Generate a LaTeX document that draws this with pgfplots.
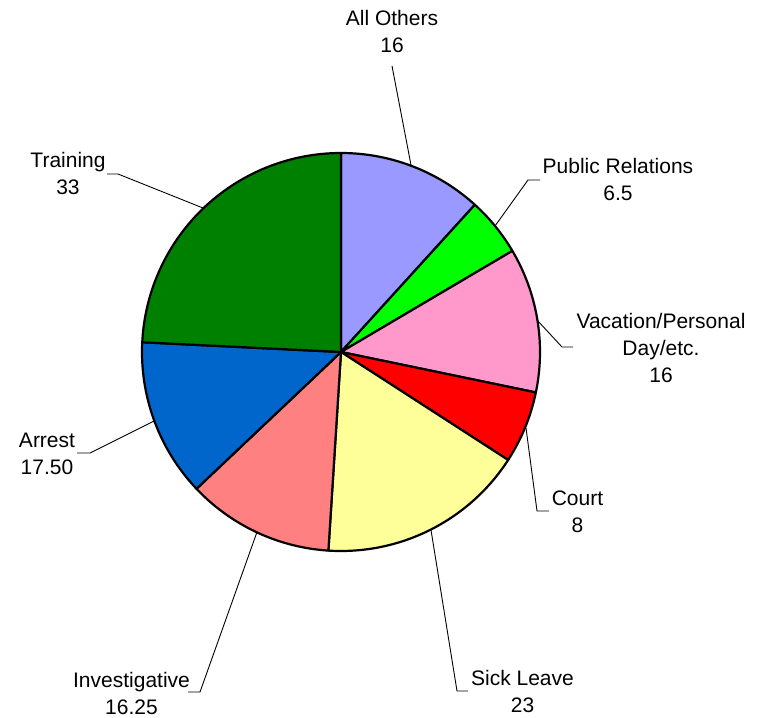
\documentclass[border=0pt]{standalone}
\usepackage{pgfplots}
\pgfplotsset{compat=1.18}
\usepackage{fontspec}
\setmainfont{Liberation Sans}
\definecolor{cOthers}{RGB}{153,153,255}
\definecolor{cPR}{RGB}{0,255,0}
\definecolor{cVac}{RGB}{255,153,204}
\definecolor{cCourt}{RGB}{255,0,0}
\definecolor{cSick}{RGB}{255,255,153}
\definecolor{cInv}{RGB}{255,128,128}
\definecolor{cArrest}{RGB}{0,102,204}
\definecolor{cTrain}{RGB}{0,128,0}
\tikzset{lbl/.style={font=\fontsize{21bp}{27bp}\selectfont, align=center, inner sep=0pt}}
% values: All Others 16, Public Relations 6.5, Vacation 16, Court 8,
% Sick Leave 23, Investigative 16.25, Arrest 17.50, Training 33 (total 136.25)
\newcommand{\pieslice}[3]{% #1 cumulative start, #2 value, #3 colour
  \addplot[fill=#3, draw=black, line width=2.2bp, line join=round, domain={360*(#1)/136.25}:{360*(#1+#2)/136.25}, samples=80, variable=\t]
    ({341+199*sin(t)},{352-199*cos(t)}) -- (axis cs:341,352) -- cycle;}
\begin{document}
\begin{tikzpicture}
\begin{axis}[
  scale only axis, width=769bp, height=718bp,
  xmin=0, xmax=769, ymin=0, ymax=718, y dir=reverse,
  axis lines=none, clip=false,
]
\pieslice{0}{16}{cOthers}
\pieslice{16}{6.5}{cPR}
\pieslice{22.5}{16}{cVac}
\pieslice{38.5}{8}{cCourt}
\pieslice{46.5}{23}{cSick}
\pieslice{69.5}{16.25}{cInv}
\pieslice{85.75}{17.5}{cArrest}
\pieslice{103.25}{33}{cTrain}
% leader lines
\addplot[black, line width=0.9bp, no markers] coordinates {(411,165) (392,66)};
\addplot[black, line width=0.9bp, no markers] coordinates {(495,226) (528,180) (540,180)};
\addplot[black, line width=0.9bp, no markers] coordinates {(537,320) (562,347) (573,347)};
\addplot[black, line width=0.9bp, no markers] coordinates {(526,428) (537,511) (549,511)};
\addplot[black, line width=0.9bp, no markers] coordinates {(431,530) (457,691) (468,691)};
\addplot[black, line width=0.9bp, no markers] coordinates {(257,532) (200,692) (188,692)};
\addplot[black, line width=0.9bp, no markers] coordinates {(154,421) (90,453) (77,453)};
\addplot[black, line width=0.9bp, no markers] coordinates {(203,208) (118,174) (107,174)};
% labels
\node[lbl] at (axis cs:392,31.5) {All Others\\16};
\node[lbl] at (axis cs:618,179.5) {Public Relations\\6.5};
\node[lbl] at (axis cs:661,347.5) {Vacation/Personal\\Day/etc.\\16};
\node[lbl] at (axis cs:577.5,511.5) {Court\\8};
\node[lbl] at (axis cs:522.5,691) {Sick Leave\\23};
\node[lbl] at (axis cs:131.5,693.5) {Investigative\\16.25};
\node[lbl] at (axis cs:47,453.5) {Arrest\\17.50};
\node[lbl] at (axis cs:68,173.5) {Training\\33};
\end{axis}
\pgfresetboundingbox
\path (current axis.south west) rectangle (current axis.north east);
\end{tikzpicture}
\end{document}
